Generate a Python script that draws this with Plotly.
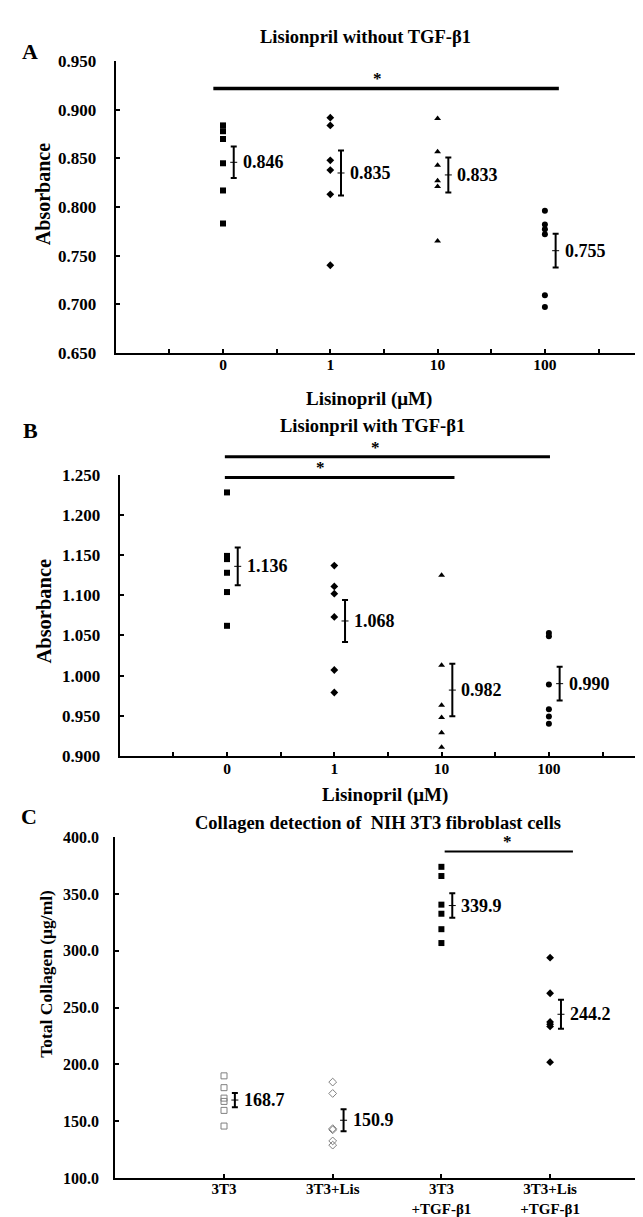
import plotly.graph_objects as go

FONT = "Liberation Serif"
W, H = 643, 1217

# ---------------- data ----------------
A_title = "Lisionpril without TGF-β1"
A_categories = ["0", "1", "10", "100"]
A_values = [
    [0.884, 0.878, 0.870, 0.845, 0.817, 0.783],
    [0.892, 0.884, 0.848, 0.838, 0.813, 0.740],
    [0.891, 0.857, 0.843, 0.827, 0.821, 0.765],
    [0.796, 0.782, 0.777, 0.772, 0.709, 0.697],
]
A_means = [0.846, 0.835, 0.833, 0.755]
A_sems = [0.0162, 0.0231, 0.0180, 0.0174]
A_yticks = [0.650, 0.700, 0.750, 0.800, 0.850, 0.900, 0.950]
A_sig = [dict(x0=0.91, x1=4.13, y=0.922, star_x=2.44)]

B_title = "Lisionpril with TGF-β1"
B_categories = ["0", "1", "10", "100"]
B_values = [
    [1.228, 1.149, 1.145, 1.128, 1.104, 1.062],
    [1.137, 1.111, 1.102, 1.073, 1.007, 0.979],
    [1.125, 1.013, 0.963, 0.948, 0.929, 0.911],
    [1.053, 1.049, 0.989, 0.958, 0.949, 0.940],
]
B_means = [1.136, 1.068, 0.982, 0.990]
B_sems = [0.0235, 0.0261, 0.0327, 0.0211]
B_yticks = [0.900, 0.950, 1.000, 1.050, 1.100, 1.150, 1.200, 1.250]
B_sig = [dict(x0=0.98, x1=4.01, y=1.2725, star_x=2.38),
         dict(x0=0.98, x1=3.12, y=1.2467, star_x=1.87)]

C_title = "Collagen detection of  NIH 3T3 fibroblast cells"
C_categories = ["3T3", "3T3+Lis", "3T3<br>+TGF-β1", "3T3+Lis<br>+TGF-β1"]
C_values = [
    [190.0, 179.6, 170.4, 167.5, 159.6, 145.8],
    [184.5, 174.5, 143.5, 142.5, 132.7, 129.0],
    [374.0, 365.9, 340.7, 332.7, 319.1, 306.9],
    [294.0, 262.7, 237.5, 235.5, 233.5, 202.0],
]
C_means = [168.7, 150.9, 339.9, 244.2]
C_sems = [6.3, 9.7, 10.8, 12.7]
C_yticks = [100, 150, 200, 250, 300, 350, 400]
C_sig = [dict(x0=3.03, x1=4.21, y=387.5, star_x=3.61)]

# ---------------- layout / style ----------------
panels = [
    dict(letter="A", title=A_title, cats=A_categories, vals=A_values, means=A_means, sems=A_sems,
         yticks=A_yticks, sig=A_sig, fmt=".3f", lab_fmt="{:.3f}", half_ticks=True,
         left=107.7, right=640, top=45, bottom=341, unit=107.3,
         symbols=["square", "diamond", "triangle-up", "circle"], sizes=[6, 6, 6, 6],
         colors=["black"] * 4, xtick_size=15.5, xtick_standoff=-3,
         ytick_size=17, ytick_standoff=14,
         ytitle="Absorbance", ytitle_size=20, ytitle_pos=(35, 180),
         xtitle="Lisinopril (μM)", xtitle_pos=(361, 388),
         title_pos=(357, 20), letter_pos=(22, 35), xid="x", yid="y", line_w=3.5),
    dict(letter="B", title=B_title, cats=B_categories, vals=B_values, means=B_means, sems=B_sems,
         yticks=B_yticks, sig=B_sig, fmt=".3f", lab_fmt="{:.3f}", half_ticks=True,
         left=111.7, right=640, top=465, bottom=750.7, unit=107.3,
         symbols=["square", "diamond", "triangle-up", "circle"], sizes=[6, 6, 6, 6],
         colors=["black"] * 4, xtick_size=15.5, xtick_standoff=-3,
         ytick_size=17, ytick_standoff=14,
         ytitle="Absorbance", ytitle_size=20.5, ytitle_pos=(36, 604),
         xtitle="Lisinopril (μM)", xtitle_pos=(377, 790),
         title_pos=(364, 415), letter_pos=(22, 420), xid="x2", yid="y2", line_w=3),
    dict(letter="C", title=C_title, cats=C_categories, vals=C_values, means=C_means, sems=C_sems,
         yticks=C_yticks, sig=C_sig, fmt=".1f", lab_fmt="{:.1f}", half_ticks=False,
         left=107.3, right=640, top=833.3, bottom=1179.5, unit=108.7,
         symbols=["square-open", "diamond-open", "square", "diamond"], sizes=[6, 6, 6, 6],
         colors=["#808080", "#808080", "black", "black"], xtick_size=15, xtick_standoff=-4,
         ytick_size=16, ytick_standoff=11,
         ytitle="Total Collagen (μg/ml)", ytitle_size=17.5, ytitle_pos=(38, 972),
         xtitle=None, xtitle_pos=None,
         title_pos=(370, 819), letter_pos=(21, 812), xid="x3", yid="y3", line_w=2),
]

BAR_OFFSET = 0.1

fig = go.Figure()
annotations = []
shapes = []
layout_axes = {}


def bold(size):
    return dict(family=FONT, size=size, color="black", weight="bold")


for p in panels:
    xrng = [0, (p["right"] - p["left"]) / p["unit"]]
    yrng = [p["yticks"][0], p["yticks"][-1]]
    n = len(p["cats"])

    # data points
    for i, vals in enumerate(p["vals"]):
        open_sym = p["symbols"][i].endswith("-open")
        fig.add_trace(go.Scatter(
            x=[i + 1] * len(vals), y=vals, mode="markers",
            xaxis=p["xid"], yaxis=p["yid"], showlegend=False, cliponaxis=False,
            marker=dict(symbol=p["symbols"][i], size=p["sizes"][i], color=p["colors"][i],
                        line=dict(width=1 if open_sym else 0, color=p["colors"][i])),
        ))

    # mean +/- SEM
    bx = [i + 1 + BAR_OFFSET for i in range(n)]
    fig.add_trace(go.Scatter(
        x=bx, y=p["means"], mode="markers", xaxis=p["xid"], yaxis=p["yid"],
        showlegend=False, cliponaxis=False,
        marker=dict(symbol="line-ew", size=5, color="black", line=dict(width=1, color="black")),
        error_y=dict(type="data", array=p["sems"], visible=True, color="black",
                     thickness=2, width=3),
    ))
    for xb, m in zip(bx, p["means"]):
        annotations.append(dict(x=xb, y=m, xref=p["xid"], yref=p["yid"], text=p["lab_fmt"].format(m),
                                showarrow=False, xanchor="left", yanchor="middle", xshift=7,
                                font=bold(18)))

    # significance bars
    xd = "%s domain" % p["xid"]
    yd = "%s domain" % p["yid"]

    def fx(v):
        return (v - xrng[0]) / (xrng[1] - xrng[0])

    def fy(v):
        return (v - yrng[0]) / (yrng[1] - yrng[0])

    for s in p["sig"]:
        shapes.append(dict(type="line", xref=xd, yref=yd, x0=fx(s["x0"]), x1=fx(s["x1"]),
                           y0=fy(s["y"]), y1=fy(s["y"]),
                           line=dict(color="black", width=p["line_w"])))
        annotations.append(dict(x=fx(s["star_x"]), y=fy(s["y"]), xref=xd, yref=yd, text="*",
                                showarrow=False, xanchor="center", yanchor="bottom", yshift=-2,
                                font=bold(17)))

    # axes
    if p["half_ticks"]:
        tv = [k * 0.5 for k in range(1, 2 * n + 2)]
        tt = [p["cats"][int(v) - 1] if float(v).is_integer() and 1 <= v <= n else "" for v in tv]
    else:
        tv = list(range(1, n + 1))
        tt = p["cats"]
    xkey = "xaxis" if p["xid"] == "x" else "xaxis" + p["xid"][1:]
    ykey = "yaxis" if p["yid"] == "y" else "yaxis" + p["yid"][1:]
    layout_axes[xkey] = dict(
        domain=[p["left"] / W, p["right"] / W], range=xrng, anchor=p["yid"],
        tickmode="array", tickvals=tv, ticktext=tt, ticks="inside", ticklen=4, tickwidth=1.5,
        tickcolor="black", showline=True, linewidth=2, linecolor="black", showgrid=False,
        zeroline=False, tickfont=bold(p["xtick_size"]), ticklabelstandoff=p["xtick_standoff"],
        fixedrange=True)
    layout_axes[ykey] = dict(
        domain=[1 - p["bottom"] / H, 1 - p["top"] / H], range=yrng, anchor=p["xid"],
        tickmode="array", tickvals=p["yticks"], tickformat=p["fmt"], ticks="inside", ticklen=4,
        tickwidth=1.5, tickcolor="black", showline=True, linewidth=2, linecolor="black",
        showgrid=False, zeroline=False, tickfont=bold(p["ytick_size"]),
        ticklabelstandoff=p["ytick_standoff"], fixedrange=True)

    # texts
    lx, ly = p["letter_pos"]
    annotations.append(dict(x=lx / W, y=1 - ly / H, xref="paper", yref="paper", text=p["letter"],
                            showarrow=False, xanchor="center", yanchor="middle", font=bold(22)))
    tx, ty = p["title_pos"]
    annotations.append(dict(x=tx / W, y=1 - ty / H, xref="paper", yref="paper", text=p["title"],
                            showarrow=False, xanchor="center", yanchor="middle", font=bold(18.5)))
    yx, yy = p["ytitle_pos"]
    annotations.append(dict(x=yx / W, y=1 - yy / H, xref="paper", yref="paper", text=p["ytitle"],
                            showarrow=False, xanchor="center", yanchor="middle", textangle=-90,
                            font=bold(p["ytitle_size"])))
    if p["xtitle"]:
        xx, xy = p["xtitle_pos"]
        annotations.append(dict(x=xx / W, y=1 - xy / H, xref="paper", yref="paper", text=p["xtitle"],
                                showarrow=False, xanchor="center", yanchor="middle", font=bold(19)))

fig.update_layout(
    width=W, height=H, margin=dict(l=0, r=0, t=0, b=0),
    paper_bgcolor="white", plot_bgcolor="white", showlegend=False,
    annotations=annotations, shapes=shapes, **layout_axes,
)

fig.write_html("out.html")
